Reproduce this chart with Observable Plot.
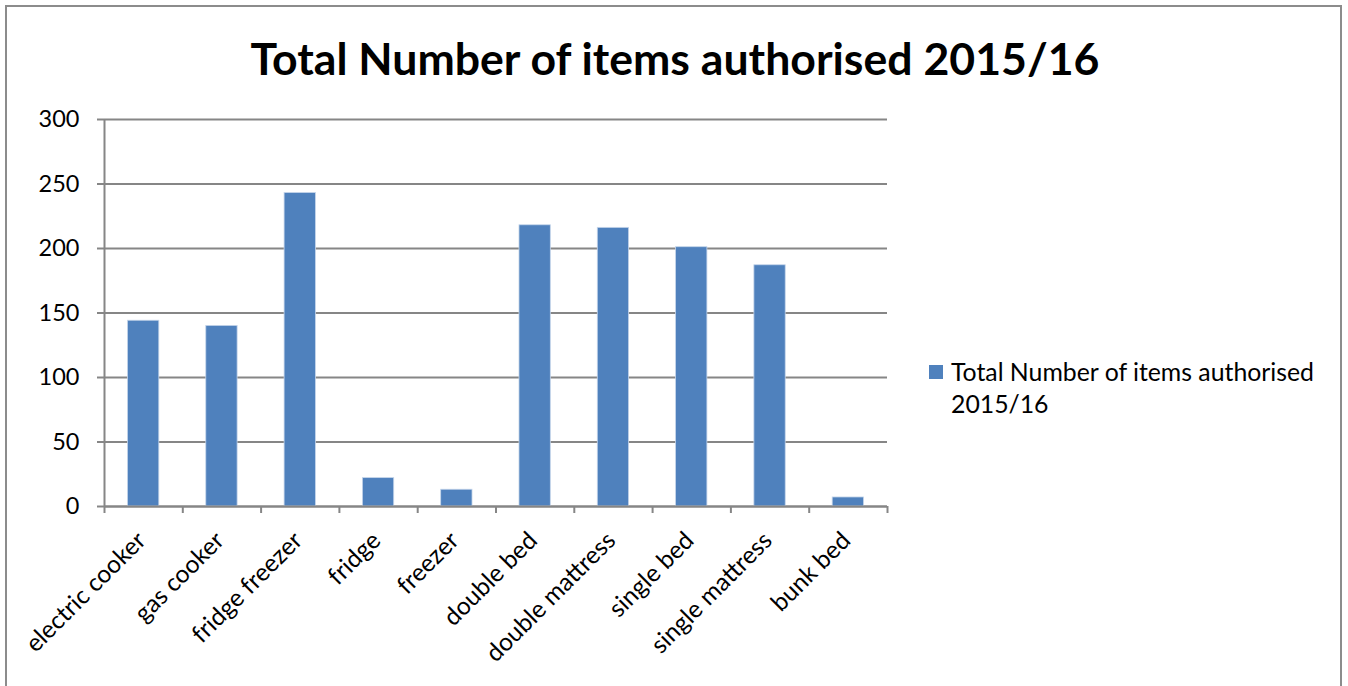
<!DOCTYPE html>
<html>
<head>
<meta charset="utf-8">
<script src="https://cdn.jsdelivr.net/npm/d3@7"></script>
<script src="https://cdn.jsdelivr.net/npm/@observablehq/plot@0.6"></script>
<style>
  html, body { margin: 0; padding: 0; background: #fff; }
  body { width: 1348px; height: 686px; overflow: hidden; position: relative; font-family: Lato, "Open Sans", sans-serif; }
  #frame { position: absolute; left: 5px; top: 5px; width: 1337px; height: 720px; border: 2px solid #8c8c8c; box-sizing: border-box; }
  #title { position: absolute; left: 0; top: 30px; width: 1350px; text-align: center; font-size: 44.6px; font-weight: bold; color: #000; line-height: 56px; }
  #chart { position: absolute; left: 0; top: 100px; }
  #legend { position: absolute; left: 929px; top: 356px; width: 410px; font-size: 24.8px; color: #000; line-height: 32px; }
  #legend .sw { position: absolute; left: 0; top: 9px; width: 14px; height: 14px; background: #4F81BD; }
  #legend .tx { margin-left: 22px; }
</style>
</head>
<body>
<div id="frame"></div>
<div id="title"></div>
<div id="chart"></div>
<div id="legend"><div class="sw"></div><div class="tx"></div></div>
<script>
const titleText = "Total Number of items authorised 2015/16";
const seriesName = "Total Number of items authorised 2015/16";
const categories = ["electric cooker", "gas cooker", "fridge freezer", "fridge", "freezer", "double bed", "double mattress", "single bed", "single mattress", "bunk bed"];
const values = [144, 140, 243, 22, 13, 218, 216, 201, 187, 7];
const yTicks = [0, 50, 100, 150, 200, 250, 300];

document.getElementById("title").textContent = titleText;
document.querySelector("#legend .tx").textContent = seriesName;

const data = categories.map((c, i) => ({cat: c, val: values[i], i}));
const gridColor = "#868686";

const plot = Plot.plot({
  width: 1348,
  height: 586,
  marginLeft: 104,
  marginRight: 461,
  marginTop: 19,
  marginBottom: 180,
  style: {fontFamily: "Lato, 'Open Sans', sans-serif", fontSize: "23px", color: "#000", background: "transparent"},
  x: {type: "linear", domain: [0, categories.length], axis: null},
  y: {domain: [0, 300], axis: null},
  marks: [
    Plot.ruleY(yTicks, {x1: 0, x2: categories.length, stroke: gridColor, strokeWidth: 2}),
    Plot.rectY(data, {x1: d => d.i + 0.3, x2: d => d.i + 0.7, y1: 0, y2: "val", fill: "#4F81BD", stroke: "#c5d5ea", strokeWidth: 0.8}),
    Plot.ruleX([0], {y1: 0, y2: 300, stroke: gridColor, strokeWidth: 2}),
    Plot.axisY({ticks: yTicks, tickSize: 7, tickPadding: 18, stroke: gridColor, strokeWidth: 2, fontSize: 23.5, fill: "#000", label: null}),
    Plot.axisX({ticks: d3.range(0, categories.length + 1), tickSize: 7, tickFormat: () => "", stroke: gridColor, strokeWidth: 2, label: null}),
    Plot.ruleY([0], {stroke: gridColor, strokeWidth: 2}),
    Plot.text(data, {x: d => d.i + 0.5, y: 0, text: "cat", rotate: -45, textAnchor: "end", lineAnchor: "middle", dx: -2, dy: 30, fontSize: 24.5, fill: "#000"})
  ]
});
document.getElementById("chart").appendChild(plot);
</script>
</body>
</html>
